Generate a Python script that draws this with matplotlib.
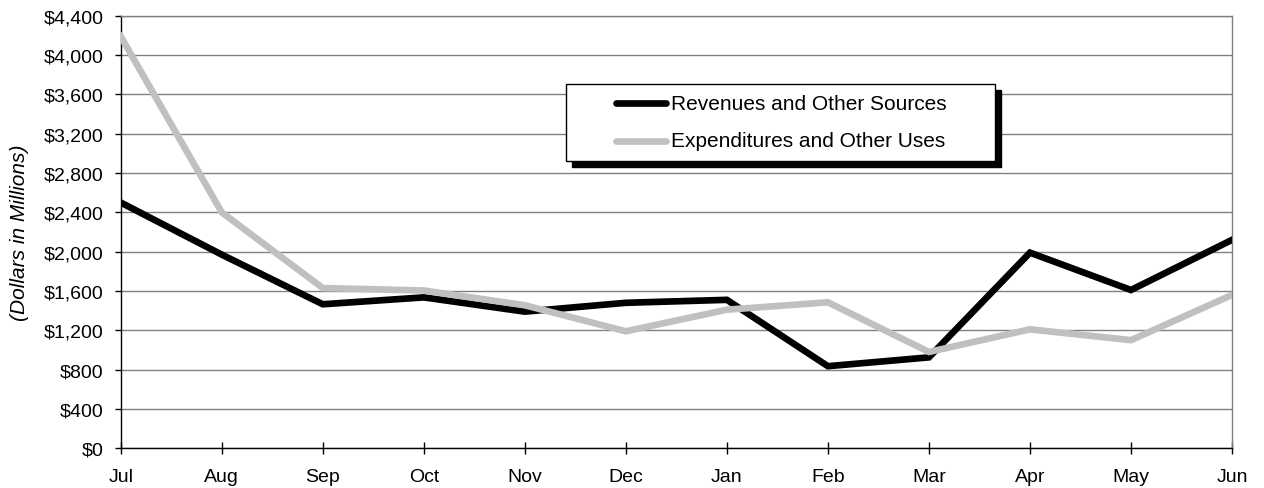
import matplotlib
matplotlib.use('Agg')
import matplotlib.pyplot as plt
from matplotlib.patches import Rectangle
from matplotlib.lines import Line2D
from matplotlib.ticker import FuncFormatter

plt.rcParams['font.family'] = ['Liberation Sans', 'DejaVu Sans']

months = ['Jul', 'Aug', 'Sep', 'Oct', 'Nov', 'Dec', 'Jan', 'Feb', 'Mar', 'Apr', 'May', 'Jun']
revenues = [2500, 1970, 1465, 1535, 1390, 1480, 1510, 835, 925, 1990, 1610, 2120]
expenditures = [4190, 2400, 1630, 1605, 1455, 1190, 1410, 1485, 980, 1210, 1100, 1560]
yticks = list(range(0, 4401, 400))

fig = plt.figure(figsize=(12.64, 4.89), dpi=100)
ax = fig.add_axes([0.0955, 0.0812, 0.8792, 0.8846])

x = list(range(len(months)))
ax.plot(x, revenues, color='black', linewidth=4.8, solid_joinstyle='miter', zorder=3)
ax.plot(x, expenditures, color='#c0c0c0', linewidth=4.8, solid_joinstyle='miter', zorder=3)

ax.set_xlim(0, len(months) - 1)
ax.set_ylim(0, 4400)
ax.set_xticks(x)
ax.set_xticklabels(months)
ax.set_yticks(yticks)
ax.yaxis.set_major_formatter(FuncFormatter(lambda v, p: '${:,.0f}'.format(v)))

# grid lines
ax.grid(axis='y', color='#808080', linewidth=1.0)
ax.set_axisbelow(True)

ax.spines['left'].set_color('black')
ax.spines['bottom'].set_color('black')
ax.spines['right'].set_color('#808080')
ax.spines['top'].set_color('#808080')
for s in ax.spines.values():
    s.set_linewidth(1.0)

ax.tick_params(axis='x', direction='inout', length=8, width=1, labelsize=14, pad=10)
ax.tick_params(axis='y', direction='out', length=4.5, width=1, labelsize=14, pad=8)

fig.text(20 / 1264, 1 - 233 / 489, '(Dollars in Millions)', rotation=90, style='italic',
         fontsize=15, ha='center', va='center')

# legend box drawn by hand (figure pixel coords)
W, H = 1264.0, 489.0
bx0, by0, bx1, by1 = 566, 85, 995, 162
fig.patches.append(Rectangle(((bx0 + 6) / W, 1 - (by1 + 6) / H), (bx1 - bx0) / W, (by1 - by0) / H,
                             transform=fig.transFigure, facecolor='black', edgecolor='black', zorder=5))
fig.patches.append(Rectangle((bx0 / W, 1 - by1 / H), (bx1 - bx0) / W, (by1 - by0) / H,
                             transform=fig.transFigure, facecolor='white', edgecolor='black',
                             linewidth=1.0, zorder=6))

labels = ['Revenues and Other Sources', 'Expenditures and Other Uses']
colors = ['black', '#c0c0c0']
rows = [104, 142]
for lab, col, ry in zip(labels, colors, rows):
    fig.lines.append(Line2D([616 / W, 666 / W], [1 - ry / H, 1 - ry / H], transform=fig.transFigure,
                            color=col, linewidth=4.8, solid_capstyle='round', zorder=7))
    fig.text(671 / W, 1 - ry / H, lab, fontsize=15, ha='left', va='center', zorder=8)

fig.savefig('out.png', dpi=100)
